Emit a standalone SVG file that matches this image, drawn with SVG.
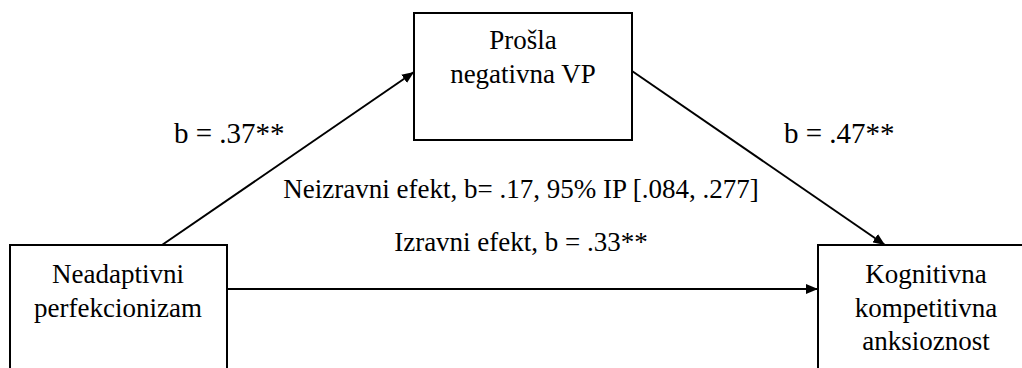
<svg xmlns="http://www.w3.org/2000/svg" width="1022" height="368" viewBox="0 0 1022 368">
<style>
text{font-family:"Liberation Serif",Tinos,"Times New Roman",Times,serif;font-size:27px;fill:#000}
.c{text-anchor:middle}
.lbl{font-size:29px}
.box{fill:#fff;stroke:#000;stroke-width:2}
.edge{stroke:#000;stroke-width:2;fill:none;marker-end:url(#ah)}
</style>
<defs>
<marker id="ah" viewBox="0 0 12 10" refX="12" refY="5" markerWidth="12" markerHeight="10" markerUnits="userSpaceOnUse" orient="auto">
<path d="M0,0 L12,5 L0,10 z" fill="#000"/>
</marker>
</defs>
<rect width="1022" height="368" fill="#fff"/>
<g id="connectors">
<line class="edge" x1="162" y1="245" x2="414" y2="72"/>
<line class="edge" x1="632" y1="71" x2="885" y2="245"/>
<line class="edge" x1="227" y1="289" x2="818" y2="289"/>
</g>
<g id="node-mediator">
<rect class="box" x="414" y="13" width="218" height="127"/>
<text class="c" x="523" y="49">Prošla</text>
<text class="c" x="523" y="83">negativna VP</text>
</g>
<g id="node-predictor">
<rect class="box" x="10" y="245" width="217" height="135"/>
<text class="c" x="118" y="283">Neadaptivni</text>
<text class="c" x="118" y="317">perfekcionizam</text>
</g>
<g id="node-outcome">
<rect class="box" x="818" y="245" width="220" height="135"/>
<text class="c" x="926" y="283">Kognitivna</text>
<text class="c" x="926" y="317">kompetitivna</text>
<text class="c" x="926" y="350">anksioznost</text>
</g>
<g id="labels">
<text class="lbl" x="174" y="143">b = .37**</text>
<text class="lbl" x="784" y="143">b = .47**</text>
<text class="c" x="521" y="198">Neizravni efekt, b= .17, 95% IP [.084, .277]</text>
<text class="c" x="521" y="251">Izravni efekt, b = .33**</text>
</g>
</svg>
